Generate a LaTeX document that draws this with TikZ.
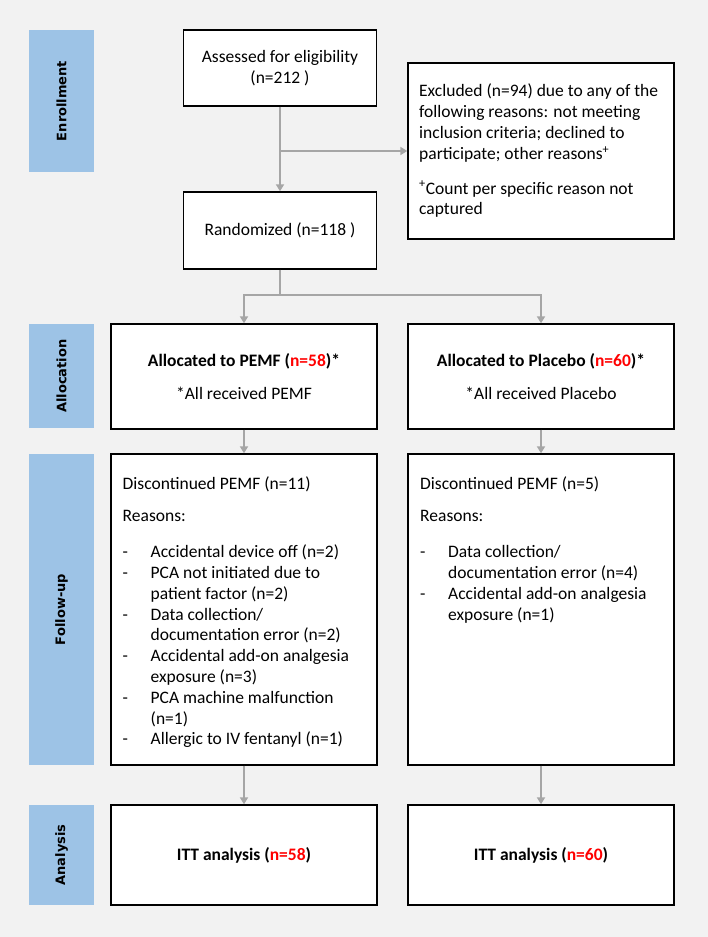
\documentclass[tikz,border=0pt]{standalone}
\usepackage{fontspec}
\setmainfont{Carlito}
\newfontfamily\labfont{DejaVu Sans}
\usetikzlibrary{arrows.meta}
\definecolor{bgc}{HTML}{F2F2F2}
\definecolor{barc}{HTML}{9DC3E6}
\definecolor{arrc}{HTML}{A6A6A6}
\definecolor{nred}{HTML}{FF0000}
\newcommand\dashitem{\makebox[28pt][l]{-}}
\newcommand\contind{\hspace*{28pt}}
\begin{document}
\begin{tikzpicture}[x=1pt,y=-1pt,
  box/.style={draw=black, line width=1.4pt, fill=white, inner sep=0pt, font=\fontsize{17.5}{20.8}\selectfont, align=center},
  txt/.style={inner sep=0pt, font=\fontsize{17.5}{20.8}\selectfont, align=left},
  stage/.style={fill=barc, inner sep=0pt, rotate=90, font=\labfont\bfseries\fontsize{13}{15}\selectfont},
  arrow/.style={draw=arrc, line width=2pt, -{Triangle[width=8pt,length=7pt]}},
  plain/.style={draw=arrc, line width=2pt}]
\fill[bgc] (0,0) rectangle (708,937);
% stage bars
\node[stage, minimum width=142pt, minimum height=65pt] (enr) at (61.5,101) {Enrollment};
\node[stage, minimum width=104pt, minimum height=65pt] (alc) at (61.5,376) {Allocation};
\node[stage, minimum width=311pt, minimum height=65pt] (fol) at (61.5,609.5) {Follow-up};
\node[stage, minimum width=100pt, minimum height=65pt] (ana) at (61.5,855) {Analysis};
% enrollment boxes
\node[box, minimum width=192.5pt, minimum height=76pt] (assess) at (280,68) {Assessed for eligibility\\(n=212 )};
\node[box, minimum width=266pt, minimum height=176pt] (excl) at (541,151) {};
\node[txt, anchor=west] (excltxt) at (419,151) {Excluded (n=94) due to any of the\\following reasons: not meeting\\inclusion criteria; declined to\\participate; other reasons\textsuperscript{+}\\[14pt]\textsuperscript{+}Count per specific reason not\\captured};
\node[box, minimum width=192.5pt, minimum height=77pt] (random) at (280,230.5) {Randomized (n=118 )};
% allocation
\node[box, minimum width=266pt, minimum height=105pt] (allocL) at (244,376.5) {\textbf{Allocated to PEMF (\textcolor{nred}{n=58})*}\\[12pt]*All received PEMF};
\node[box, minimum width=266pt, minimum height=105pt] (allocR) at (541,376.5) {\textbf{Allocated to Placebo (\textcolor{nred}{n=60})*}\\[12pt]*All received Placebo};
% follow-up
\node[box, minimum width=266pt, minimum height=311pt] (fuL) at (244,609.5) {};
\node[box, minimum width=266pt, minimum height=311pt] (fuR) at (541,609.5) {};
\node[txt, anchor=north west] (fuLt) at (122.5,476) {Discontinued PEMF (n=11)\\[12pt]Reasons:\\[15pt]
\dashitem Accidental device off (n=2)\\
\dashitem PCA not initiated due to\\
\contind patient factor (n=2)\\
\dashitem Data collection/\\
\contind documentation error (n=2)\\
\dashitem Accidental add-on analgesia\\
\contind exposure (n=3)\\
\dashitem PCA machine malfunction\\
\contind (n=1)\\
\dashitem Allergic to IV fentanyl (n=1)};
\node[txt, anchor=north west] (fuRt) at (420,476) {Discontinued PEMF (n=5)\\[12pt]Reasons:\\[15pt]
\dashitem Data collection/\\
\contind documentation error (n=4)\\
\dashitem Accidental add-on analgesia\\
\contind exposure (n=1)};
% analysis
\node[box, minimum width=266pt, minimum height=100pt] (ittL) at (244,855) {\textbf{ITT analysis (\textcolor{nred}{n=58})}};
\node[box, minimum width=266pt, minimum height=100pt] (ittR) at (541,855) {\textbf{ITT analysis (\textcolor{nred}{n=60})}};
% connectors
\coordinate (j1) at (280,151);
\coordinate (j2) at (280,295);
\draw[arrow] (assess.south) -- (random.north);
\draw[arrow] (j1) -- (excl.west);
\draw[plain] (random.south) -- (j2);
\draw[arrow] (j2) -| (allocL.north);
\draw[arrow] (j2) -| (allocR.north);
\draw[arrow] (allocL.south) -- (fuL.north);
\draw[arrow] (allocR.south) -- (fuR.north);
\draw[arrow] (fuL.south) -- (ittL.north);
\draw[arrow] (fuR.south) -- (ittR.north);
\end{tikzpicture}
\end{document}
